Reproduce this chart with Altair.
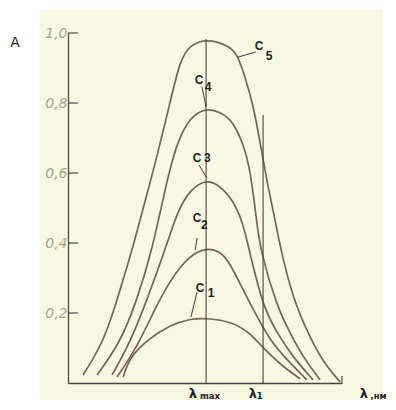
import altair as alt
import pandas as pd

# ---- data (x in relative wavelength units 0..100, y = absorbance A)
c1_x = [20.1, 22.6, 28.8, 37.2, 44.5, 50.4, 60.2, 66.4, 71.2, 78.5, 84.7]
c1_y = [0.017, 0.074, 0.123, 0.166, 0.183, 0.186, 0.174, 0.143, 0.100, 0.046, 0.012]

c2_x = [17.9, 25.2, 31.0, 37.2, 44.5, 50.4, 55.5, 59.1, 63.9, 69.0, 73.7, 79.9, 87.2]
c2_y = [0.017, 0.103, 0.200, 0.294, 0.366, 0.386, 0.377, 0.343, 0.266, 0.189, 0.123, 0.066, 0.009]

c3_x = [16.1, 22.6, 28.8, 35.4, 40.1, 44.5, 50.4, 55.5, 60.2, 63.9, 66.1, 71.2, 76.3, 82.1, 89.4]
c3_y = [0.023, 0.114, 0.237, 0.380, 0.494, 0.551, 0.583, 0.563, 0.523, 0.457, 0.380, 0.217, 0.143, 0.074, 0.009]

c4_x = [10.6, 19.0, 25.2, 30.7, 35.8, 37.2, 39.8, 44.5, 50.4, 55.5, 60.2, 65.3, 67.2, 68.6, 70.1, 76.3, 81.0, 85.8, 92.0]
c4_y = [0.023, 0.114, 0.237, 0.380, 0.566, 0.609, 0.686, 0.760, 0.786, 0.774, 0.751, 0.657, 0.566, 0.480, 0.380, 0.217, 0.143, 0.074, 0.009]

c5_x = [5.5, 12.8, 17.9, 23.4, 26.3, 29.2, 32.8, 37.2, 40.9, 44.5, 50.7, 58.0, 61.7, 64.6, 67.5, 70.8, 73.0, 75.5, 77.4, 82.1, 88.3, 93.1, 99.3]
c5_y = [0.023, 0.114, 0.237, 0.380, 0.466, 0.551, 0.657, 0.800, 0.923, 0.966, 0.983, 0.966, 0.943, 0.874, 0.800, 0.657, 0.560, 0.470, 0.390, 0.240, 0.130, 0.060, 0.003]

y_ticks = [0.2, 0.4, 0.6, 0.8, 1.0]

lam_max_x = 50.4
lam_max_top = 0.983
lam_1_x = 71.2
lam_1_top = 0.766

# curve labels: text, x, y
c_label_text = ["C", "5", "C", "4", "C", "3", "C", "2", "C", "1"]
c_label_x = [69.7, 73.4, 47.8, 51.1, 47.1, 50.9, 47.1, 49.8, 48.2, 52.2]
c_label_y = [0.963, 0.934, 0.866, 0.846, 0.643, 0.643, 0.471, 0.451, 0.271, 0.257]

# leader lines from label to curve
lead_x = [62.0, 48.9, 47.8, 47.1, 47.1]
lead_x2 = [68.6, 50.4, 50.7, 46.4, 44.9]
lead_y = [0.931, 0.846, 0.623, 0.414, 0.260]
lead_y2 = [0.946, 0.789, 0.586, 0.380, 0.189]

# ---- tables
rows = []
for name, xs, ys in [("C1", c1_x, c1_y), ("C2", c2_x, c2_y), ("C3", c3_x, c3_y),
                     ("C4", c4_x, c4_y), ("C5", c5_x, c5_y)]:
    for a, b in zip(xs, ys):
        rows.append({"curve": name, "x": a, "y": b})
curves = pd.DataFrame(rows)

xs_ = alt.Scale(domain=[0, 100], nice=False, zero=False)
ys_ = alt.Scale(domain=[0, 1], nice=False, zero=False)

CURVE = "#76645a"
INK = "#4a4540"

X_AX = alt.Axis(labels=False, ticks=False, title=None, grid=False,
                domainColor=INK, domainWidth=1.3, zindex=1)
Y_AX = alt.Axis(values=y_ticks, ticks=False, title=None, grid=False,
                domainColor=INK, domainWidth=1.3, zindex=1,
                labelExpr="replace(format(datum.value, '.1f'), '.', ',')",
                labelFont="DejaVu Sans", labelFontStyle="italic",
                labelFontSize=14, labelColor="#a3a394", labelPadding=1)


def X(f="x:Q"):
    return alt.X(f, scale=xs_, axis=X_AX)


def Y(f="y:Q"):
    return alt.Y(f, scale=ys_, axis=Y_AX)


bg = alt.Chart(pd.DataFrame({"x": [-10.2], "x2": [115.0], "y": [-0.049], "y2": [1.066]})).mark_rect(
    color="#f9f8e3"
).encode(x=X(), x2="x2:Q", y=Y(), y2="y2:Q")

lines = alt.Chart(curves).mark_line(interpolate="basis", strokeWidth=1.7, color=CURVE).encode(
    x=X(), y=Y(), detail="curve:N",
)

tick_df = pd.DataFrame({"y": y_ticks, "x": [0.0] * len(y_ticks), "x2": [3.6] * len(y_ticks)})
ticks = alt.Chart(tick_df).mark_rule(color=INK, strokeWidth=1.2).encode(
    x=X(), x2="x2:Q", y=Y(),
)

vl_df = pd.DataFrame({"x": [lam_max_x, lam_1_x, 100.0], "y": [0.0, 0.0, 0.0],
                      "y2": [lam_max_top, lam_1_top, 0.02]})
vlines = alt.Chart(vl_df).mark_rule(color=INK, strokeWidth=1.1).encode(
    x=X(), y=Y(), y2="y2:Q",
)

lead_df = pd.DataFrame({"x": lead_x, "x2": lead_x2, "y": lead_y, "y2": lead_y2})
leads = alt.Chart(lead_df).mark_rule(color="#3a3a3a", strokeWidth=1).encode(
    x=X(), x2="x2:Q", y=Y(), y2="y2:Q",
)

lab_df = pd.DataFrame({"t": c_label_text, "x": c_label_x, "y": c_label_y})
clabels = alt.Chart(lab_df).mark_text(font="Liberation Sans", fontWeight="bold", fontSize=12,
                                       color="#222222").encode(x=X(), y=Y(), text="t:N")

a_df = pd.DataFrame({"t": ["A"], "x": [-19.3], "y": [0.971]})
a_lab = alt.Chart(a_df).mark_text(font="DejaVu Sans", fontSize=14, color="#222222").encode(
    x=X(), y=Y(), text="t:N")

big_df = pd.DataFrame({"t": ["λ", "λ", "λ"],
                       "x": [45.6, 67.5, 108.0],
                       "y": [-0.052, -0.052, -0.052]})
big = alt.Chart(big_df).mark_text(font="DejaVu Sans", fontSize=13, fontWeight="bold",
                                  baseline="bottom", color="#222222").encode(
    x=X(), y=Y(), text="t:N")

sub_df = pd.DataFrame({"t": ["max", "1"],
                       "x": [51.8, 70.0],
                       "y": [-0.052, -0.052]})
subs = alt.Chart(sub_df).mark_text(font="DejaVu Sans", fontSize=8.5, fontWeight="bold",
                                   baseline="bottom", color="#222222").encode(
    x=X(), y=Y(), text="t:N")

unit_df = pd.DataFrame({"t": [",нм"], "x": [110.4], "y": [-0.052]})
unit = alt.Chart(unit_df).mark_text(font="DejaVu Sans", fontSize=8.5, fontWeight="bold",
                                    align="left", baseline="bottom", color="#222222").encode(
    x=X(), y=Y(), text="t:N")

chart = alt.layer(bg, lines, ticks, vlines, leads, clabels, a_lab, big, subs, unit).properties(
    width=274, height=350,
    padding={"left": 60, "top": 25, "right": 46, "bottom": 19},
    autosize=alt.AutoSizeParams(type="none"),
    background="white",
).configure_view(strokeWidth=0)

chart.save("out.html", embed_options={"renderer": "svg", "actions": False})
